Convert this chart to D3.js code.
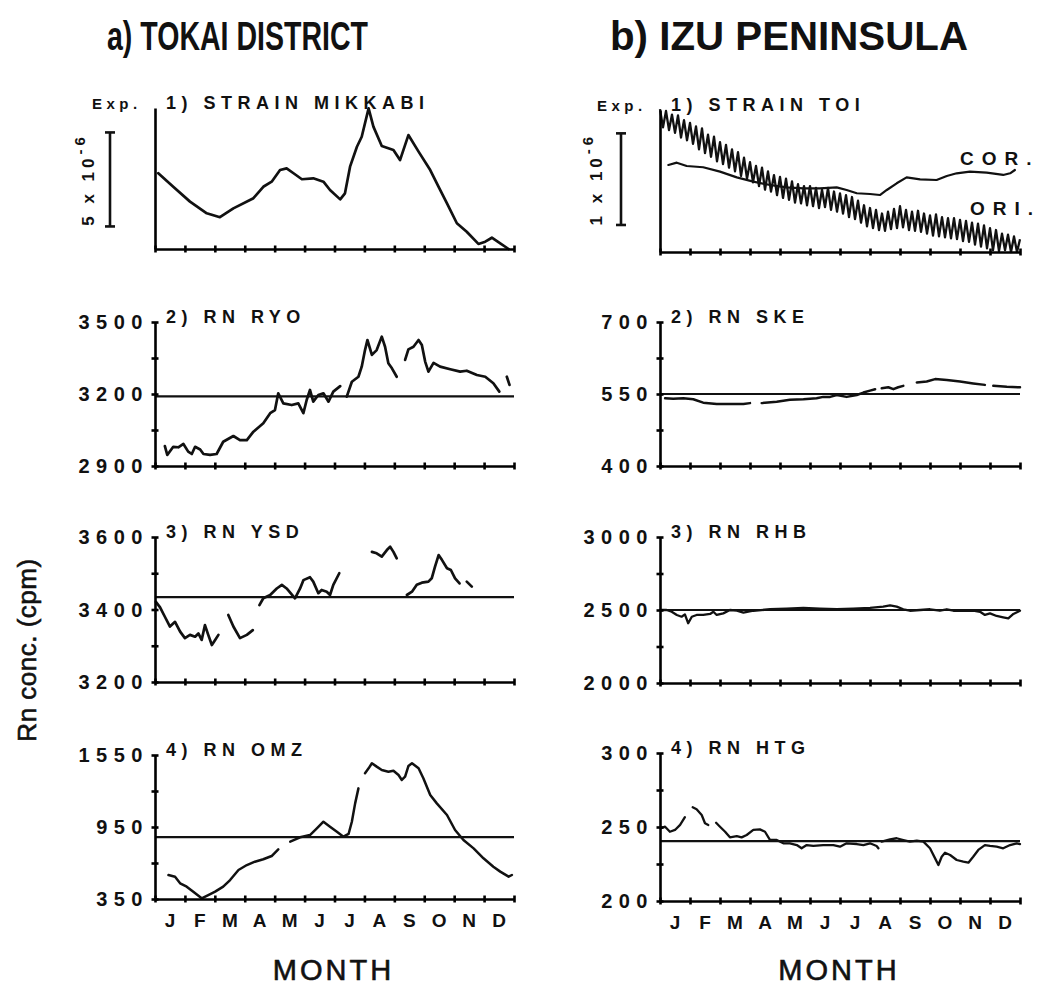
<!DOCTYPE html>
<html>
<head>
<meta charset="utf-8">
<script src="https://cdn.jsdelivr.net/npm/d3@7"></script>
<style>
  body { margin: 0; background: #fff; }
  svg { display: block; }
  text { font-family: "Liberation Sans", Arial, sans-serif; fill: #111; }
</style>
</head>
<body>
<div id="chart"></div>
<script>
// month labels and tick boundaries
const months = ["J", "F", "M", "A", "M", "J", "J", "A", "S", "O", "N", "D"];
const monthTicks = d3.range(0, 13);

// a) Tokai district -- values as [month, value]
const mikkabi = [[0.11,4.03],[0.61,3.31],[1.17,2.52],[1.73,1.90],[2.17,1.69],[2.62,2.16],[3.29,2.70],[3.62,3.31],[3.90,3.58],[4.18,4.20],[4.40,4.29],[4.63,4.03],[4.91,3.71],[5.29,3.76],[5.63,3.58],[5.85,3.14],[6.19,2.64],[6.35,2.96],[6.52,4.38],[6.75,5.44],[6.91,5.97],[7.14,7.48],[7.30,6.51],[7.58,5.48],[7.97,5.27],[8.19,4.73],[8.47,6.06],[8.81,5.18],[9.20,4.20],[9.48,3.31],[9.76,2.43],[10.09,1.37],[10.42,0.92],[10.81,0.27],[11.04,0.39],[11.26,0.60],[11.54,0.30],[11.82,0.0]];

const ryo = [
  [[0.33,2983],[0.41,2946],[0.61,2980],[0.78,2978],[0.95,2992],[1.11,2960],[1.23,2950],[1.34,2980],[1.51,2969],[1.62,2950],[1.84,2946],[2.06,2950],[2.28,3001],[2.62,3025],[2.84,3008],[3.07,3008],[3.29,3043],[3.62,3078],[3.85,3120],[4.01,3133],[4.12,3203],[4.29,3161],[4.57,3154],[4.79,3161],[4.96,3120],[5.07,3175],[5.18,3217],[5.29,3168],[5.46,3196],[5.63,3203],[5.80,3168],[5.96,3210],[6.19,3233]],
  [[6.41,3189],[6.58,3251],[6.80,3272],[6.91,3314],[7.02,3383],[7.10,3425],[7.25,3363],[7.41,3383],[7.58,3439],[7.69,3397],[7.80,3328],[7.92,3307],[8.08,3272]],
  [[8.36,3342],[8.47,3386],[8.64,3397],[8.81,3425],[8.92,3404],[9.03,3335],[9.14,3293],[9.31,3330],[9.53,3314],[9.87,3303],[10.20,3293],[10.42,3297],[10.76,3279],[11.04,3272],[11.31,3245],[11.51,3210]],
  [[11.76,3272],[11.85,3238]]
];

const ysd = [
  [[0.03,3421],[0.17,3406],[0.33,3380],[0.50,3353],[0.67,3366],[0.84,3339],[1.00,3321],[1.17,3330],[1.34,3325],[1.45,3334],[1.56,3316],[1.67,3357],[1.78,3330],[1.90,3302],[2.01,3316],[2.12,3330]],
  [[2.45,3385],[2.62,3353],[2.84,3321],[3.07,3330],[3.27,3343]],
  [[3.49,3412],[3.62,3431],[3.85,3440],[4.07,3458],[4.24,3468],[4.40,3458],[4.68,3431],[4.85,3458],[4.96,3481],[5.18,3489],[5.29,3477],[5.46,3445],[5.57,3454],[5.74,3449],[5.85,3440],[5.96,3468],[6.16,3500]],
  [[7.25,3559],[7.41,3555],[7.58,3546],[7.75,3564],[7.86,3573],[7.97,3559],[8.08,3541]],
  [[8.42,3440],[8.59,3449],[8.75,3468],[8.92,3474],[9.14,3477],[9.25,3486],[9.36,3518],[9.48,3550],[9.59,3537],[9.76,3514],[9.89,3509],[10.03,3486],[10.18,3472]],
  [[10.42,3477],[10.59,3463]]
];

const omz = [
  [[0.45,550],[0.67,536],[0.84,481],[1.06,453],[1.28,411],[1.56,356],[1.78,383],[2.01,411],[2.28,453],[2.51,508],[2.79,592],[3.07,633],[3.34,661],[3.62,681],[3.90,708],[4.12,764]],
  [[4.52,828],[4.85,864],[5.18,883],[5.41,939],[5.63,994],[5.85,953],[6.08,911],[6.30,869],[6.47,892],[6.58,994],[6.69,1147],[6.80,1272]],
  [[7.02,1398],[7.14,1439],[7.25,1481],[7.41,1453],[7.58,1425],[7.80,1411],[7.97,1419],[8.14,1383],[8.25,1342],[8.36,1369],[8.47,1458],[8.59,1481],[8.81,1439],[8.97,1356],[9.20,1217],[9.42,1147],[9.76,1050],[10.03,925],[10.31,842],[10.65,772],[10.98,689],[11.31,619],[11.54,578],[11.82,536],[11.93,550]]
];

// b) Izu peninsula
const toiCor = [[0.28,0.950],[0.56,0.975],[0.89,0.939],[1.44,0.925],[2.00,0.877],[2.56,0.815],[3.11,0.768],[3.67,0.731],[4.22,0.706],[4.78,0.695],[5.33,0.695],[5.89,0.706],[6.22,0.677],[6.56,0.641],[7.00,0.633],[7.33,0.622],[7.56,0.677],[7.89,0.750],[8.22,0.815],[8.67,0.793],[9.22,0.786],[9.56,0.830],[9.89,0.859],[10.33,0.877],[10.89,0.866],[11.44,0.841],[11.67,0.859],[11.83,0.895]];

const toiOri = [[0.0,1.56],[0.1,1.36],[0.2,1.54],[0.3,1.33],[0.4,1.50],[0.5,1.30],[0.6,1.49],[0.7,1.25],[0.8,1.44],[0.9,1.22],[1.0,1.41],[1.1,1.18],[1.2,1.37],[1.3,1.12],[1.4,1.35],[1.5,1.08],[1.6,1.28],[1.7,1.04],[1.8,1.26],[1.9,0.99],[2.0,1.20],[2.1,0.96],[2.2,1.17],[2.3,0.92],[2.4,1.12],[2.5,0.88],[2.6,1.09],[2.7,0.83],[2.8,1.03],[2.9,0.80],[3.0,0.98],[3.1,0.76],[3.2,0.94],[3.3,0.72],[3.4,0.92],[3.5,0.68],[3.6,0.88],[3.7,0.66],[3.8,0.84],[3.9,0.62],[4.0,0.82],[4.1,0.59],[4.2,0.80],[4.3,0.57],[4.4,0.77],[4.5,0.54],[4.6,0.74],[4.7,0.53],[4.8,0.72],[4.9,0.51],[5.0,0.72],[5.1,0.50],[5.2,0.70],[5.3,0.48],[5.4,0.68],[5.5,0.49],[5.6,0.70],[5.7,0.46],[5.8,0.66],[5.9,0.44],[6.0,0.64],[6.1,0.42],[6.2,0.62],[6.3,0.38],[6.4,0.60],[6.5,0.36],[6.6,0.56],[6.7,0.32],[6.8,0.51],[6.9,0.28],[7.0,0.48],[7.1,0.26],[7.2,0.46],[7.3,0.24],[7.4,0.42],[7.5,0.23],[7.6,0.44],[7.7,0.25],[7.8,0.47],[7.9,0.26],[8.0,0.50],[8.1,0.27],[8.2,0.46],[8.3,0.24],[8.4,0.44],[8.5,0.23],[8.6,0.45],[8.7,0.22],[8.8,0.42],[8.9,0.20],[9.0,0.40],[9.1,0.18],[9.2,0.41],[9.3,0.17],[9.4,0.38],[9.5,0.16],[9.6,0.37],[9.7,0.15],[9.8,0.37],[9.9,0.14],[10.0,0.35],[10.1,0.12],[10.2,0.34],[10.3,0.11],[10.4,0.32],[10.5,0.08],[10.6,0.31],[10.7,0.06],[10.8,0.29],[10.9,0.04],[11.0,0.26],[11.1,0.02],[11.2,0.24],[11.3,0.01],[11.4,0.20],[11.5,0.02],[11.6,0.19],[11.7,0.0],[11.8,0.17],[11.9,0.0],[12.0,0.14]];

const ske = [
  [[0.17,541],[0.44,540],[0.78,541],[1.11,539],[1.44,532],[1.89,529],[2.33,529],[2.78,529],[3.00,531]],
  [[3.39,531],[3.89,534],[4.33,538],[4.78,539],[5.22,541],[5.44,544],[5.67,544],[5.89,548],[6.22,544],[6.56,548],[6.78,553],[7.00,557],[7.17,560]],
  [[7.39,562],[7.61,564],[7.78,560],[7.94,564],[8.11,567]],
  [[8.56,574],[8.89,576],[9.17,581],[9.56,579],[10.00,576],[10.44,572],[10.83,569]],
  [[11.11,567],[11.56,565],[12.0,564]]
];

const rhb = [[0,2500],[0.22,2500],[0.39,2488],[0.56,2466],[0.72,2454],[0.83,2470],[0.94,2409],[1.06,2454],[1.22,2466],[1.44,2466],[1.67,2473],[1.78,2488],[1.89,2466],[2.11,2477],[2.33,2500],[2.56,2495],[2.78,2482],[3.11,2495],[3.67,2505],[4.22,2509],[4.78,2514],[5.33,2509],[5.89,2505],[6.44,2509],[7.0,2514],[7.44,2523],[7.67,2532],[7.89,2523],[8.11,2505],[8.33,2495],[8.67,2500],[9.0,2505],[9.33,2495],[9.56,2505],[9.78,2495],[10.11,2495],[10.44,2495],[10.67,2488],[10.83,2466],[11.0,2477],[11.22,2459],[11.44,2450],[11.61,2443],[11.78,2473],[12.0,2495]];

const htg = [
  [[0.02,249.1],[0.17,250.2],[0.33,246.8],[0.50,248.0],[0.67,251.4],[0.83,256.6]],
  [[1.09,263.3],[1.22,262.0],[1.39,258.1],[1.50,252.5],[1.61,251.4]],
  [[1.87,252.9],[2.0,250.2],[2.17,246.8],[2.33,243.0],[2.56,243.9],[2.72,243.0],[2.89,244.6],[3.11,248.0],[3.33,248.4],[3.50,246.8],[3.67,241.2],[3.89,241.2],[4.11,239.0],[4.33,239.0],[4.56,237.8],[4.72,235.6],[4.89,237.8],[5.11,237.2],[5.44,237.8],[5.78,237.8],[6.0,236.7],[6.22,239.0],[6.56,238.5],[6.78,237.8],[7.0,239.0],[7.22,237.2],[7.28,235.6]],
  [[7.39,240.1],[7.67,241.7],[7.89,242.4],[8.11,241.2],[8.33,240.1],[8.56,240.7],[8.78,240.1],[9.0,235.6],[9.17,228.8],[9.28,224.3],[9.39,229.9],[9.50,232.6],[9.67,231.1],[9.89,227.7],[10.11,226.6],[10.28,225.9],[10.44,229.9],[10.61,234.5],[10.83,237.8],[11.0,237.2],[11.22,236.7],[11.44,235.6],[11.67,237.8],[11.89,239.0],[12.0,238.5]]
];

// y tick labels and base lines
const ryoTicks = [2900, 3050, 3200, 3350, 3500];
const ysdTicks = [3200, 3300, 3400, 3500, 3600];
const omzTicks = [350, 650, 950, 1250, 1550];
const skeTicks = [400, 475, 550, 625, 700];
const rhbTicks = [2000, 2250, 2500, 2750, 3000];
const htgTicks = [200, 225, 250, 275, 300];
const baseLines = { ryo: 3190, ysd: 3434, omz: 865, ske: 550, rhb: 2500, htg: 240.5 };

const W = 1042, H = 985;
const cols = [{ x0: 155, x1: 514 }, { x0: 660, x1: 1020 }];
const rowBox = [
  [[108, 249], [322, 466], [537, 682], [755, 899]],
  [[110, 252], [322, 466], [537, 683], [753, 901]],
];

const panels = [
  { col: 0, row: 0, title: "1) STRAIN MIKKABI", domain: [0, 7.5], segs: [mikkabi], w: 2.7, bar: [1.2, 6.2], barX: 110, barText: "5 x 10", labelX: 94 },
  { col: 0, row: 1, title: "2) RN RYO", domain: [2900, 3500], ticks: ryoTicks, base: baseLines.ryo, segs: ryo, w: 2.7 },
  { col: 0, row: 2, title: "3) RN YSD", domain: [3200, 3600], ticks: ysdTicks, base: baseLines.ysd, segs: ysd, w: 2.7 },
  { col: 0, row: 3, title: "4) RN OMZ", domain: [350, 1550], ticks: omzTicks, base: baseLines.omz, segs: omz, w: 2.5 },
  { col: 1, row: 0, title: "1) STRAIN TOI", domain: [0, 1.55], segs: [toiCor], w: 2.2, extra: toiOri, bar: [0.295, 1.295], barX: 621, barText: "1 x 10", labelX: 602 },
  { col: 1, row: 1, title: "2) RN SKE", domain: [400, 700], ticks: skeTicks, base: baseLines.ske, segs: ske, w: 2.5 },
  { col: 1, row: 2, title: "3) RN RHB", domain: [2000, 3000], ticks: rhbTicks, base: baseLines.rhb, segs: [rhb], w: 2.3 },
  { col: 1, row: 3, title: "4) RN HTG", domain: [200, 300], ticks: htgTicks, base: baseLines.htg, segs: htg, w: 2.3 },
];

const svg = d3.select("#chart").append("svg").attr("width", W).attr("height", H);

// column headings
svg.append("text").attr("x", 107).attr("y", 50).attr("font-size", 40).attr("font-weight", "bold")
  .attr("textLength", 261).attr("lengthAdjust", "spacingAndGlyphs").text("a) TOKAI DISTRICT");
svg.append("text").attr("x", 610).attr("y", 50).attr("font-size", 40).attr("font-weight", "bold")
  .attr("textLength", 358).attr("lengthAdjust", "spacingAndGlyphs").text("b) IZU PENINSULA");

// shared y label
svg.append("text").attr("transform", "translate(36,650) rotate(-90)").attr("text-anchor", "middle")
  .attr("font-size", 26).attr("letter-spacing", 0.5).attr("stroke", "#111").attr("stroke-width", 0.6)
  .text("Rn conc. (cpm)");

panels.forEach((p) => {
  const [top, bottom] = rowBox[p.col][p.row];
  const { x0, x1 } = cols[p.col];
  const x = d3.scaleLinear().domain([0, 12]).range([x0, x1]);
  const y = d3.scaleLinear().domain(p.domain).range([bottom, top]);
  const g = svg.append("g");
  const line = d3.line().x((d) => x(d[0])).y((d) => y(d[1]));

  if (p.base !== undefined) {
    g.append("line").attr("x1", x0).attr("x2", x1).attr("y1", y(p.base)).attr("y2", y(p.base))
      .attr("stroke", "#111").attr("stroke-width", 2.2);
  }

  if (p.extra) {
    g.append("path").attr("d", line(p.extra)).attr("fill", "none").attr("stroke", "#111")
      .attr("stroke-width", 2.3).attr("stroke-linejoin", "round");
  }

  p.segs.forEach((seg) => {
    g.append("path").attr("d", line(seg)).attr("fill", "none").attr("stroke", "#111")
      .attr("stroke-width", p.w).attr("stroke-linejoin", "round").attr("stroke-linecap", "round");
  });

  // axes with cross-shaped ticks
  const xAxis = g.append("g").attr("transform", `translate(0,${bottom})`)
    .call(d3.axisBottom(x).tickValues(monthTicks).tickSize(0).tickSizeOuter(0).tickFormat(""));
  xAxis.selectAll(".tick line").attr("y1", -3.5).attr("y2", 3.5).attr("stroke-width", 2.6);
  xAxis.select(".domain").attr("stroke-width", 2.6);

  const yAxis = g.append("g").attr("transform", `translate(${x0},0)`)
    .call(d3.axisLeft(y).tickValues(p.ticks || []).tickSize(0).tickSizeOuter(0).tickFormat(""));
  yAxis.selectAll(".tick line").attr("x1", -3.5).attr("x2", 3.5).attr("stroke-width", 2.6);
  yAxis.select(".domain").attr("stroke-width", 2.6);

  g.append("text").attr("x", x0 + 11).attr("y", top + 1).attr("font-size", 18).attr("font-weight", "bold")
    .attr("letter-spacing", 5.5).text(p.title);

  if (p.ticks) {
    [p.ticks[0], p.ticks[2], p.ticks[4]].forEach((t) => {
      g.append("text").attr("x", x0 - 6).attr("y", y(t)).attr("dy", "0.36em").attr("text-anchor", "end")
        .attr("font-size", 20).attr("font-weight", "bold").attr("letter-spacing", 6.5).text(t);
    });
  }

  if (p.bar) {
    const [b0, b1] = p.bar.map(y);
    g.append("line").attr("x1", p.barX).attr("x2", p.barX).attr("y1", b0).attr("y2", b1)
      .attr("stroke", "#111").attr("stroke-width", 2.6);
    [b0, b1].forEach((yy) => {
      g.append("line").attr("x1", p.barX - 5).attr("x2", p.barX + 5).attr("y1", yy).attr("y2", yy)
        .attr("stroke", "#111").attr("stroke-width", 2.6);
    });
    const lbl = g.append("text").attr("transform", `translate(${p.labelX},${(b0 + b1) / 2}) rotate(-90)`)
      .attr("text-anchor", "middle").attr("font-size", 17).attr("font-weight", "bold").attr("letter-spacing", 4);
    lbl.append("tspan").text(p.barText);
    lbl.append("tspan").attr("dy", -9).attr("font-size", 15).text("-6");
    g.append("text").attr("x", x0 - 63).attr("y", top + 1).attr("font-size", 15).attr("font-weight", "bold")
      .attr("letter-spacing", 4.5).text("Exp.");
  }

  if (p.row === 3) {
    months.forEach((m, i) => {
      g.append("text").attr("x", x(i + 0.5)).attr("y", bottom + 28).attr("text-anchor", "middle")
        .attr("font-size", 19).attr("font-weight", "bold").text(m);
    });
    g.append("text").attr("x", (x0 + x1) / 2 - 1).attr("y", 980).attr("text-anchor", "middle")
      .attr("font-size", 29).attr("letter-spacing", 3).attr("stroke", "#111").attr("stroke-width", 0.6)
      .text("MONTH");
  }
});

// strain curve labels
svg.append("text").attr("x", 960).attr("y", 165).attr("font-size", 19).attr("font-weight", "bold")
  .attr("letter-spacing", 8).text("COR.");
svg.append("text").attr("x", 970).attr("y", 215).attr("font-size", 19).attr("font-weight", "bold")
  .attr("letter-spacing", 8).text("ORI.");
</script>
</body>
</html>
